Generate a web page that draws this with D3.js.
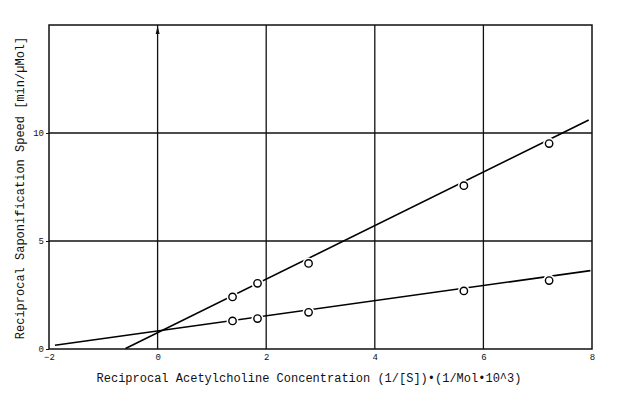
<!DOCTYPE html>
<html>
<head>
<meta charset="utf-8">
<script src="https://cdn.jsdelivr.net/npm/d3@7"></script>
<style>
  body { margin: 0; background: #fff; }
  .tick text { font-family: "Liberation Mono", "DejaVu Sans Mono", monospace; font-size: 9px; fill: #111; }
  .axisText { font-family: "Liberation Mono", "DejaVu Sans Mono", monospace; font-size: 12px; fill: #111; }
</style>
</head>
<body>
<div id="chart"></div>
<script>
// data
var xTicks = [-2, 0, 2, 4, 6, 8];
var yTicks = [0, 5, 10];
var pointsX = [1.38, 1.84, 2.78, 5.64, 7.21];
var upperY = [2.41, 3.04, 3.96, 7.56, 9.51];
var lowerY = [1.30, 1.41, 1.70, 2.69, 3.17];
// fitted lines, end points
var upperLine = [[-0.59, 0.02], [7.94, 10.6]];
var lowerLine = [[-1.89, 0.17], [7.97, 3.63]];

var svgWidth = 624;
var svgHeight = 411;
var chartMargin = { top: 25, right: 32, bottom: 62, left: 49 };
var chartWidth = svgWidth - chartMargin.left - chartMargin.right;
var chartHeight = svgHeight - chartMargin.top - chartMargin.bottom;

var svg = d3.select("#chart").append("svg")
  .attr("width", svgWidth)
  .attr("height", svgHeight);

var chartGroup = svg.append("g")
  .attr("transform", `translate(${chartMargin.left}, ${chartMargin.top})`);

var x = d3.scaleLinear().domain([-2, 8]).range([0, chartWidth]);
var y = d3.scaleLinear().domain([0, 15]).range([chartHeight, 0]);

var ink = "#111";

// grid
chartGroup.selectAll(".vgrid")
  .data([0, 2, 4, 6])
  .enter().append("line")
  .attr("x1", d => x(d)).attr("x2", d => x(d))
  .attr("y1", 0).attr("y2", chartHeight)
  .attr("stroke", ink).attr("stroke-width", 1.3);

chartGroup.selectAll(".hgrid")
  .data([5, 10])
  .enter().append("line")
  .attr("x1", 0).attr("x2", chartWidth)
  .attr("y1", d => y(d)).attr("y2", d => y(d))
  .attr("stroke", ink).attr("stroke-width", 1.3);

// frame
chartGroup.append("rect")
  .attr("width", chartWidth).attr("height", chartHeight)
  .attr("fill", "none").attr("stroke", ink).attr("stroke-width", 1.5);

// arrow at top of y axis (x = 0)
chartGroup.append("path")
  .attr("d", `M${x(0) - 2},${9} L${x(0)},${1} L${x(0) + 2},${9} Z`)
  .attr("fill", ink);

// axes
var bottomAxis = d3.axisBottom(x).tickValues(xTicks).tickSize(0).tickPadding(5);
var leftAxis = d3.axisLeft(y).tickValues(yTicks).tickSize(3).tickPadding(2);

chartGroup.append("g")
  .attr("transform", `translate(0, ${chartHeight})`)
  .call(bottomAxis)
  .call(g => g.select(".domain").remove());

chartGroup.append("g")
  .call(leftAxis)
  .call(g => g.select(".domain").remove())
  .call(g => g.selectAll(".tick line").attr("stroke", ink));

// fitted lines
var lineGen = d3.line().x(d => x(d[0])).y(d => y(d[1]));
[upperLine, lowerLine].forEach(function(l) {
  chartGroup.append("path")
    .attr("d", lineGen(l))
    .attr("fill", "none")
    .attr("stroke", "#000")
    .attr("stroke-width", 1.6);
});

// points with white halo to break the line
[upperY, lowerY].forEach(function(series) {
  var pts = pointsX.map((px, i) => [px, series[i]]);
  chartGroup.selectAll(null)
    .data(pts)
    .enter().append("circle")
    .attr("cx", d => x(d[0]))
    .attr("cy", d => y(d[1]))
    .attr("r", 6)
    .attr("fill", "#fff");
  chartGroup.selectAll(null)
    .data(pts)
    .enter().append("circle")
    .attr("cx", d => x(d[0]))
    .attr("cy", d => y(d[1]))
    .attr("r", 3.7)
    .attr("fill", "#fff")
    .attr("stroke", "#000")
    .attr("stroke-width", 1.4);
});

// axis labels
svg.append("text")
  .attr("class", "axisText")
  .attr("x", 309).attr("y", 382)
  .style("text-anchor", "middle")
  .text("Reciprocal Acetylcholine Concentration (1/[S])\u2022(1/Mol\u202210^3)");

svg.append("text")
  .attr("class", "axisText")
  .attr("transform", `translate(24, ${188}) rotate(-90)`)
  .style("text-anchor", "middle")
  .text("Reciprocal Saponification Speed [min/\u00b5Mol]");
</script>
</body>
</html>
